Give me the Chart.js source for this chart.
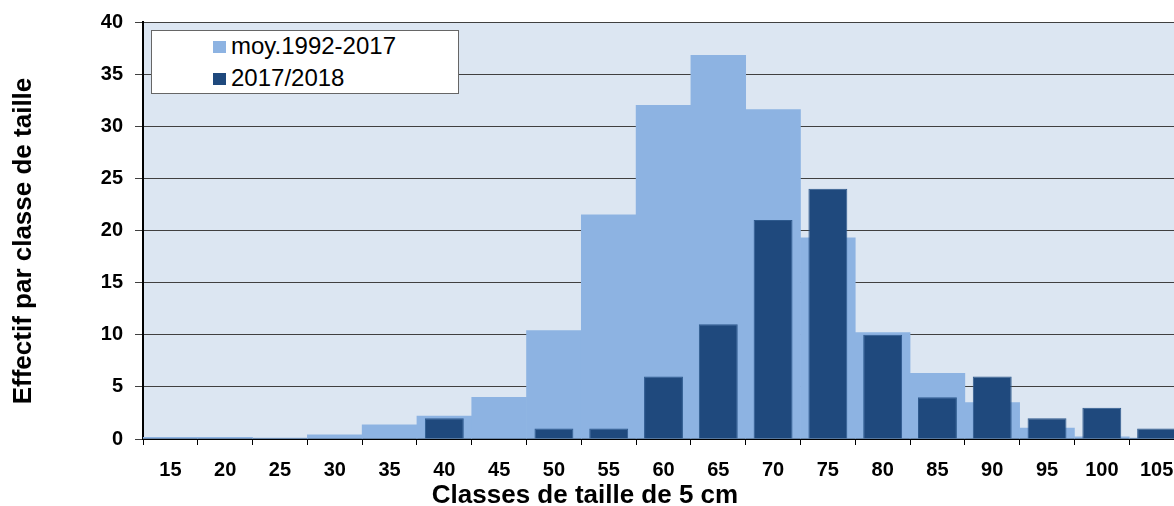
<!DOCTYPE html>
<html>
<head>
<meta charset="utf-8">
<script src="https://cdn.jsdelivr.net/npm/chart.js@4.4.0/dist/chart.umd.min.js"></script>
<style>
  html, body { margin: 0; padding: 0; background: #fff; overflow: hidden; }
  #wrap { position: relative; width: 1190px; height: 506px; }
  #legend {
    position: absolute; left: 151px; top: 30px; width: 306px; height: 62px;
    background: #fff; border: 1px solid #666;
    font: 24px "Liberation Sans", Arial, sans-serif; color: #000;
  }
  .box { position: absolute; left: 61px; width: 13px; height: 12px; }
  .txt { position: absolute; left: 79px; height: 28px; line-height: 28px; white-space: nowrap; }
  .axisTitle {
    position: absolute; width: 400px; height: 30px; line-height: 30px; text-align: center;
    font: bold 26px "Liberation Sans", Arial, sans-serif; color: #000; white-space: nowrap;
  }
  #xTitle { left: 385px; top: 479px; }
  #yTitle { left: -178px; top: 226px; transform: rotate(-90deg); }
</style>
</head>
<body>
<div id="wrap">
  <canvas id="sizeChart" width="1190" height="506"></canvas>
  <div id="legend">
    <div class="box" style="top:10px;background:#8db3e2"></div>
    <div class="txt" style="top:1px">moy.1992-2017</div>
    <div class="box" style="top:42px;background:#1f497d"></div>
    <div class="txt" style="top:33px">2017/2018</div>
  </div>
  <div class="axisTitle" id="xTitle">Classes de taille de 5 cm</div>
  <div class="axisTitle" id="yTitle">Effectif par classe de taille</div>
</div>
<script>
const categories = ['15', '20', '25', '30', '35', '40', '45', '50', '55', '60', '65', '70', '75', '80', '85', '90', '95', '100', '105'];
const moyenne = [0.15, 0.15, 0.1, 0.4, 1.35, 2.2, 4.0, 10.4, 21.5, 32.0, 36.8, 31.6, 19.3, 10.2, 6.3, 3.5, 1.05, 0.2, 0.1];
const saison = [0, 0, 0, 0, 0, 2, 0, 1, 1, 6, 11, 21, 24, 10, 4, 6, 2, 3, 1];
const yTicks = [0, 5, 10, 15, 20, 25, 30, 35, 40];

const plotBackground = {
  id: 'plotBackground',
  beforeDraw(chart) {
    const a = chart.chartArea;
    const ctx = chart.ctx;
    ctx.save();
    ctx.fillStyle = '#dce6f2';
    ctx.fillRect(a.left, a.top, a.right - a.left, a.bottom - a.top);
    ctx.restore();
  }
};

new Chart(document.getElementById('sizeChart'), {
  type: 'bar',
  data: {
    labels: categories,
    datasets: [{
      label: '2017/2018',
      data: saison,
      backgroundColor: '#1f497d',
      borderColor: '#2e5a8e',
      borderWidth: 1,
      barPercentage: 0.71,
      categoryPercentage: 1,
      grouped: false,
      order: 0
    },
    {
      label: 'moy.1992-2017',
      data: moyenne,
      backgroundColor: '#8db3e2',
      barPercentage: 1,
      categoryPercentage: 1,
      grouped: false,
      order: 1
    }]
  },
  options: {
    responsive: false,
    animation: false,
    layout: {
      padding: { top: 22, right: 6, left: 0, bottom: 11 }
    },
    plugins: {
      legend: { display: false },
      tooltip: { enabled: false }
    },
    scales: {
      x: {
        offset: true,
        grid: {
          offset: true,
          drawOnChartArea: false,
          color: '#000',
          tickLength: 6
        },
        border: { color: '#000', width: 2 },
        ticks: {
          color: '#000',
          maxRotation: 0,
          autoSkip: false,
          padding: 15,
          font: { family: '"Liberation Sans", Arial', size: 20, weight: 'bold', lineHeight: 1 }
        }
      },
      y: {
        min: 0,
        max: 40,
        afterBuildTicks: (axis) => { axis.ticks = yTicks.map(v => ({ value: v })); },
        afterFit: (axis) => { axis.width = 143; },
        grid: {
          color: '#404040',
          lineWidth: 1,
          tickLength: 8
        },
        border: { color: '#000', width: 2 },
        ticks: {
          color: '#000',
          padding: 12,
          font: { family: '"Liberation Sans", Arial', size: 20, weight: 'bold', lineHeight: 1 }
        }
      }
    }
  },
  plugins: [plotBackground]
});
</script>
</body>
</html>
